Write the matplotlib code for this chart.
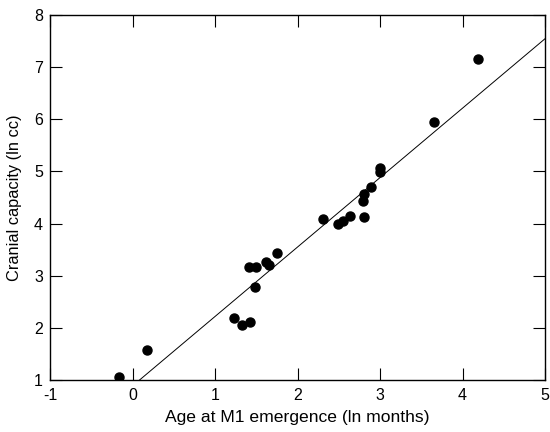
import matplotlib.pyplot as plt
import numpy as np

plt.rcParams['font.family'] = ['Liberation Sans', 'DejaVu Sans']
plt.rcParams['axes.unicode_minus'] = False

# ln age at M1 emergence (months) and ln cranial capacity (cc)
age = [-0.16, 0.18, 1.23, 1.33, 1.42, 1.48, 1.41, 1.50, 1.62, 1.65, 1.75,
       2.31, 2.49, 2.55, 2.63, 2.80, 2.79, 2.80, 2.89, 3.00, 3.00, 3.65, 4.19]
cranial = [1.06, 1.57, 2.19, 2.05, 2.11, 2.78, 3.16, 3.16, 3.26, 3.20, 3.44,
           4.08, 3.99, 4.04, 4.15, 4.13, 4.43, 4.57, 4.70, 4.98, 5.07, 5.95, 7.16]

# fitted line
slope = 1.33
intercept = 0.89
line_x = [0.0, 5.0]

fig = plt.figure(figsize=(5.5, 4.32), dpi=100)
ax = fig.add_axes([0.091, 0.12, 0.9, 0.846])

lx = np.array(line_x)
ax.plot(lx, slope * lx + intercept, color='black', lw=0.7)
ax.plot(age, cranial, 'o', color='black', markersize=6.5)

ax.set_xlim(-1, 5)
ax.set_ylim(1, 8)
ax.set_xticks(range(-1, 6))
ax.set_yticks(range(1, 9))
ax.tick_params(direction='in', top=True, right=True, length=8.5, labelsize=11.5, width=0.8)
ax.tick_params(axis='x', pad=6)
ax.tick_params(axis='y', pad=5)
ax.set_xlabel('Age at M1 emergence (ln months)', fontsize=12.6, labelpad=5)
ax.set_ylabel('Cranial capacity (ln cc)', fontsize=11.8, labelpad=9,
              family=['Liberation Sans Narrow', 'Liberation Sans', 'DejaVu Sans'])
for s in ax.spines.values():
    s.set_linewidth(1.0)

fig.savefig('out.png', dpi=100)
